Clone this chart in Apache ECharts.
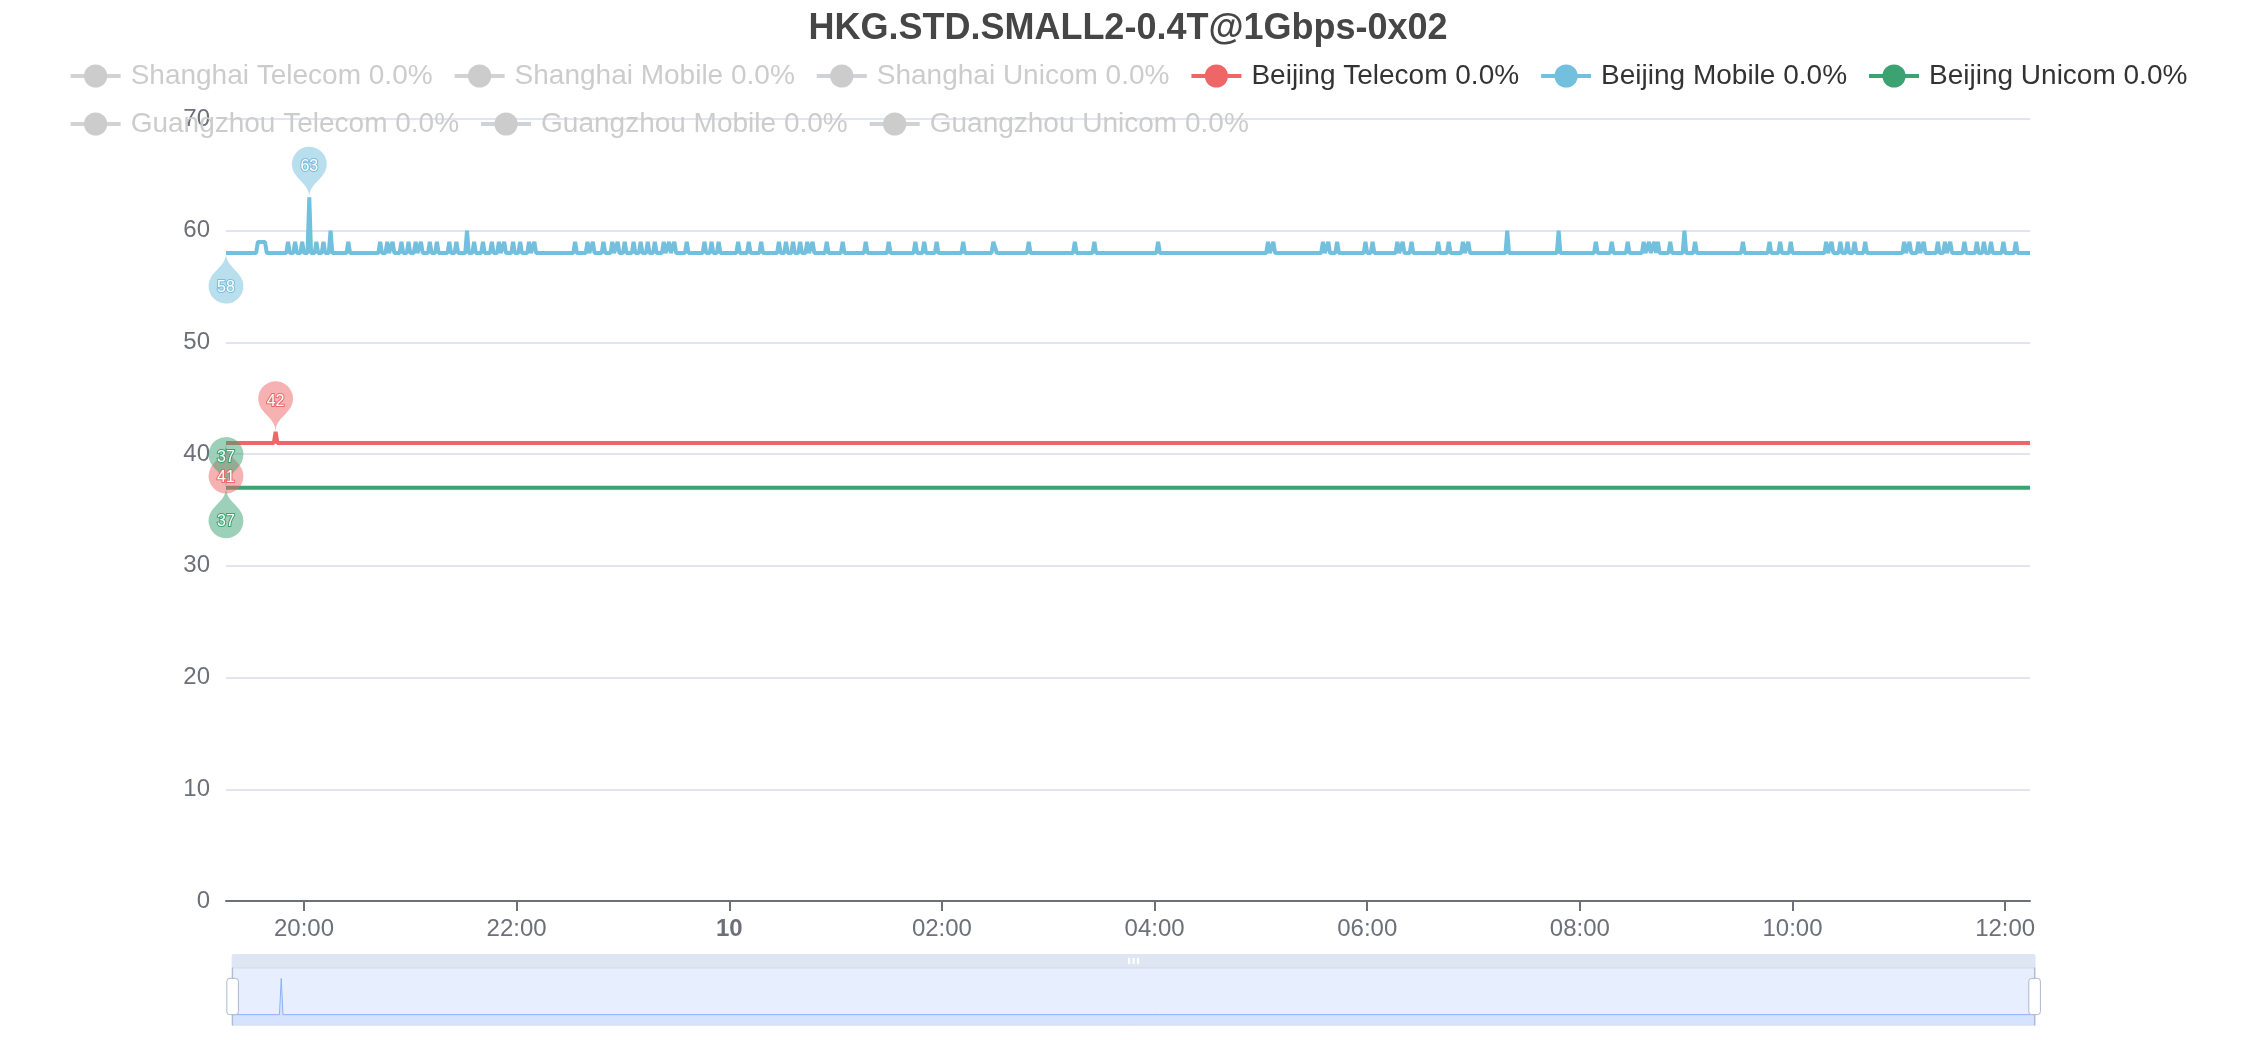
<!DOCTYPE html>
<html>
<head>
<meta charset="utf-8">
<script src="https://cdn.jsdelivr.net/npm/echarts@6/dist/echarts.min.js"></script>
<style>
html,body{margin:0;padding:0;background:#fff;}
#chart{width:2256px;height:1040px;}
</style>
</head>
<body>
<div id="chart"></div>
<script>
// ---------- data ----------
const chartTitle = 'HKG.STD.SMALL2-0.4T@1Gbps-0x02';
const seriesNames = ['Shanghai Telecom', 'Shanghai Mobile', 'Shanghai Unicom',
  'Beijing Telecom', 'Beijing Mobile', 'Beijing Unicom',
  'Guangzhou Telecom', 'Guangzhou Mobile', 'Guangzhou Unicom'];
const lossRates = ['0.0%', '0.0%', '0.0%', '0.0%', '0.0%', '0.0%', '0.0%', '0.0%', '0.0%'];
const shownInLegend = [false, false, false, true, true, true, false, false, false];
const palette = ['#5470c6', '#91cc75', '#fac858', '#ee6666', '#73c0de', '#3ba272', '#fc8452', '#9a60b4', '#ea7ccc'];
const startTime = [2023, 4, 9, 19, 16]; // 2023-05-09 19:16, samples every minute

// [minute offset from start, latency ms]
const shanghaiTelecom = [];
const shanghaiMobile = [];
const shanghaiUnicom = [];
const guangzhouTelecom = [];
const guangzhouMobile = [];
const guangzhouUnicom = [];
const beijingTelecom = [[0, 41], [27, 41], [28, 42], [29, 41], [1018, 41]];
const beijingUnicom = [[0, 37], [1018, 37]];
const beijingMobile = [
  [0, 58], [17, 58], [18, 59], [22, 59], [23, 58],
  [34, 58], [35, 59], [36, 58], [38, 58], [39, 59], [40, 58], [42, 58], [43, 59], [44, 58],
  [46, 58], [47, 63], [48, 58], [50, 58], [51, 59], [52, 58], [54, 58], [55, 59], [56, 58],
  [58, 58], [59, 60], [60, 58], [68, 58], [69, 59], [70, 58],
  [86, 58], [87, 59], [88, 58], [90, 58], [91, 59], [92, 58], [93, 58], [94, 59], [95, 58],
  [98, 58], [99, 59], [100, 58], [102, 58], [103, 59], [104, 58], [106, 58], [107, 59], [108, 58],
  [109, 58], [110, 59], [111, 58], [114, 58], [115, 59], [116, 58], [118, 58], [119, 59], [120, 58],
  [125, 58], [126, 59], [127, 58], [129, 58], [130, 59], [131, 58], [135, 58], [136, 60], [137, 58],
  [139, 58], [140, 59], [141, 58], [144, 58], [145, 59], [146, 58], [149, 58], [150, 59], [151, 58],
  [153, 58], [154, 59], [155, 58], [156, 58], [157, 59], [158, 58], [161, 58], [162, 59], [163, 58],
  [165, 58], [166, 59], [167, 58], [170, 58], [171, 59], [172, 58], [173, 58], [174, 59], [175, 58],
  [196, 58], [197, 59], [198, 58], [203, 58], [204, 59], [205, 58], [206, 58], [207, 59], [208, 58],
  [212, 58], [213, 59], [214, 58], [217, 58], [218, 59], [219, 58], [220, 58], [221, 59], [222, 58],
  [224, 58], [225, 59], [226, 58], [229, 58], [230, 59], [231, 58], [233, 58], [234, 59], [235, 58],
  [237, 58], [238, 59], [239, 58], [241, 58], [242, 59], [243, 58], [246, 58], [247, 59], [248, 58],
  [249, 58], [250, 59], [251, 58], [252, 58], [253, 59], [254, 58], [259, 58], [260, 59], [261, 58],
  [269, 58], [270, 59], [271, 58], [273, 58], [274, 59], [275, 58], [277, 58], [278, 59], [279, 58],
  [288, 58], [289, 59], [290, 58], [294, 58], [295, 59], [296, 58], [301, 58], [302, 59], [303, 58],
  [311, 58], [312, 59], [313, 58], [315, 58], [316, 59], [317, 58], [319, 58], [320, 59], [321, 58],
  [323, 58], [324, 59], [325, 58], [327, 58], [328, 59], [329, 58], [330, 58], [331, 59], [332, 58],
  [338, 58], [339, 59], [340, 58], [347, 58], [348, 59], [349, 58], [360, 58], [361, 59], [362, 58],
  [373, 58], [374, 59], [375, 58], [388, 58], [389, 59], [390, 58], [393, 58], [394, 59], [395, 58],
  [400, 58], [401, 59], [402, 58], [415, 58], [416, 59], [417, 58], [432, 58], [433, 59], [434, 59], [435, 58],
  [452, 58], [453, 59], [454, 58], [478, 58], [479, 59], [480, 58], [489, 58], [490, 59], [491, 58],
  [525, 58], [526, 59], [527, 58], [587, 58], [588, 59], [589, 58], [590, 58], [591, 59], [592, 58],
  [618, 58], [619, 59], [620, 58], [621, 58], [622, 59], [623, 58], [626, 58], [627, 59], [628, 58],
  [642, 58], [643, 59], [644, 58], [646, 58], [647, 59], [648, 58], [660, 58], [661, 59], [662, 58],
  [663, 58], [664, 59], [665, 58], [668, 58], [669, 59], [670, 58], [683, 58], [684, 59], [685, 58],
  [689, 58], [690, 59], [691, 58], [697, 58], [698, 59], [699, 58], [700, 58], [701, 59], [702, 58],
  [722, 58], [723, 60], [724, 58], [751, 58], [752, 60], [753, 58],
  [772, 58], [773, 59], [774, 58], [781, 58], [782, 59], [783, 58], [790, 58], [791, 59], [792, 58],
  [799, 58], [800, 59], [801, 58], [802, 58], [803, 59], [804, 58], [805, 58], [806, 59], [807, 58],
  [808, 59], [809, 58], [814, 58], [815, 59], [816, 58], [822, 58], [823, 60], [824, 58],
  [828, 58], [829, 59], [830, 58], [855, 58], [856, 59], [857, 58], [870, 58], [871, 59], [872, 58],
  [876, 58], [877, 59], [878, 58], [882, 58], [883, 59], [884, 58], [902, 58], [903, 59], [904, 58],
  [905, 58], [906, 59], [907, 58], [910, 58], [911, 59], [912, 58], [914, 58], [915, 59], [916, 58],
  [918, 58], [919, 59], [920, 58], [924, 58], [925, 59], [926, 58], [946, 58], [947, 59], [948, 58],
  [949, 58], [950, 59], [951, 58], [954, 58], [955, 59], [956, 58], [957, 58], [958, 59], [959, 58],
  [965, 58], [966, 59], [967, 58], [969, 58], [970, 59], [971, 58], [972, 58], [973, 59], [974, 58],
  [980, 58], [981, 59], [982, 58], [987, 58], [988, 59], [989, 58], [991, 58], [992, 59], [993, 58],
  [995, 58], [996, 59], [997, 58], [1002, 58], [1003, 59], [1004, 58], [1009, 58], [1010, 59], [1011, 58],
  [1018, 58]
];
const seriesData = [shanghaiTelecom, shanghaiMobile, shanghaiUnicom,
  beijingTelecom, beijingMobile, beijingUnicom,
  guangzhouTelecom, guangzhouMobile, guangzhouUnicom];
const yMin = 0, yMax = 70, yStep = 10;

// ---------- chart ----------
const t0 = new Date(startTime[0], startTime[1], startTime[2], startTime[3], startTime[4]).getTime();
const toSeries = arr => arr.map(p => [t0 + p[0] * 60000, p[1]]);
const pad = n => (n < 10 ? '0' : '') + n;
const FONT = "'Liberation Sans', Arial, sans-serif";
const HOUR = 3600 * 1000;

const legendNames = seriesNames.map((n, i) => n + ' ' + lossRates[i]);
const selected = {};
legendNames.forEach((n, i) => { selected[n] = shownInLegend[i]; });

const chart = echarts.init(document.getElementById('chart'), null, {renderer: 'canvas'});
chart.setOption({
  animation: false,
  color: palette,
  textStyle: {fontFamily: FONT},
  title: {
    text: chartTitle,
    left: 'center',
    top: 6,
    textStyle: {fontSize: 36, fontWeight: 'bold', color: '#464646', fontFamily: FONT}
  },
  legend: {
    data: legendNames,
    selected: selected,
    left: 'center',
    top: 57,
    itemWidth: 50,
    itemHeight: 29,
    itemGap: 20,
    inactiveColor: '#ccc',
    lineStyle: {width: 4, inactiveWidth: 4},
    formatter: name => '{s| }' + name,
    textStyle: {
      fontSize: 28, color: '#333', fontFamily: FONT,
      rich: {s: {width: 5, fontSize: 28}}
    }
  },
  grid: {left: 226, right: 226, top: 119, bottom: 139},
  xAxis: {
    type: 'time',
    min: 'dataMin',
    max: 'dataMax',
    minInterval: 2.5 * HOUR,
    maxInterval: 3 * HOUR,
    boundaryGap: false,
    axisLine: {lineStyle: {color: '#6E7079', width: 2}},
    axisTick: {length: 10, lineStyle: {color: '#6E7079', width: 2}},
    splitLine: {show: false},
    axisLabel: {
      fontSize: 24, color: '#6E7079', margin: 16, fontFamily: FONT,
      formatter: function (v) {
        const d = new Date(v);
        if (d.getHours() === 0 && d.getMinutes() === 0) return '{b|' + d.getDate() + '}';
        return pad(d.getHours()) + ':' + pad(d.getMinutes());
      },
      rich: {b: {fontWeight: 'bold', fontSize: 24, color: '#6E7079', fontFamily: FONT}}
    }
  },
  yAxis: {
    type: 'value',
    min: yMin, max: yMax, interval: yStep,
    axisLine: {show: false},
    axisTick: {show: false},
    splitLine: {lineStyle: {color: '#E0E6F1', width: 2}},
    axisLabel: {fontSize: 24, color: '#6E7079', margin: 16, fontFamily: FONT}
  },
  dataZoom: [{
    type: 'slider',
    xAxisIndex: 0,
    left: 226,
    right: 226,
    bottom: 28,
    height: 58,
    moveHandleSize: 14,
    borderColor: '#d2dbee',
    fillerColor: 'rgba(135,175,274,0.2)',
    backgroundColor: 'rgba(47,69,84,0)',
    handleStyle: {color: '#fff', borderColor: '#ACB8D1'},
    moveHandleStyle: {color: '#D2DBEE', opacity: 0.7},
    dataBackground: {lineStyle: {color: '#d2dbee', width: 1}, areaStyle: {color: '#d2dbee', opacity: 0.3}},
    selectedDataBackground: {lineStyle: {color: '#8fb0f7', width: 1}, areaStyle: {color: '#8fb0f7', opacity: 0.2}},
    showDetail: false,
    brushSelect: true
  }],
  series: seriesNames.map((n, i) => ({
    name: legendNames[i],
    type: 'line',
    symbol: 'circle',
    showSymbol: false,
    lineStyle: {width: 4},
    data: toSeries(seriesData[i]),
    markPoint: {
      symbol: 'pin',
      symbolSize: 58,
      itemStyle: {opacity: 0.5},
      label: {fontSize: 16, fontFamily: FONT, color: '#fff', opacity: 1,
        textBorderColor: palette[i], textBorderWidth: 2},
      data: [
        {type: 'max', name: 'max'},
        {type: 'min', name: 'min', symbolRotate: 180, label: {offset: [0, 14]}}
      ]
    }
  }))
});
</script>
</body>
</html>
